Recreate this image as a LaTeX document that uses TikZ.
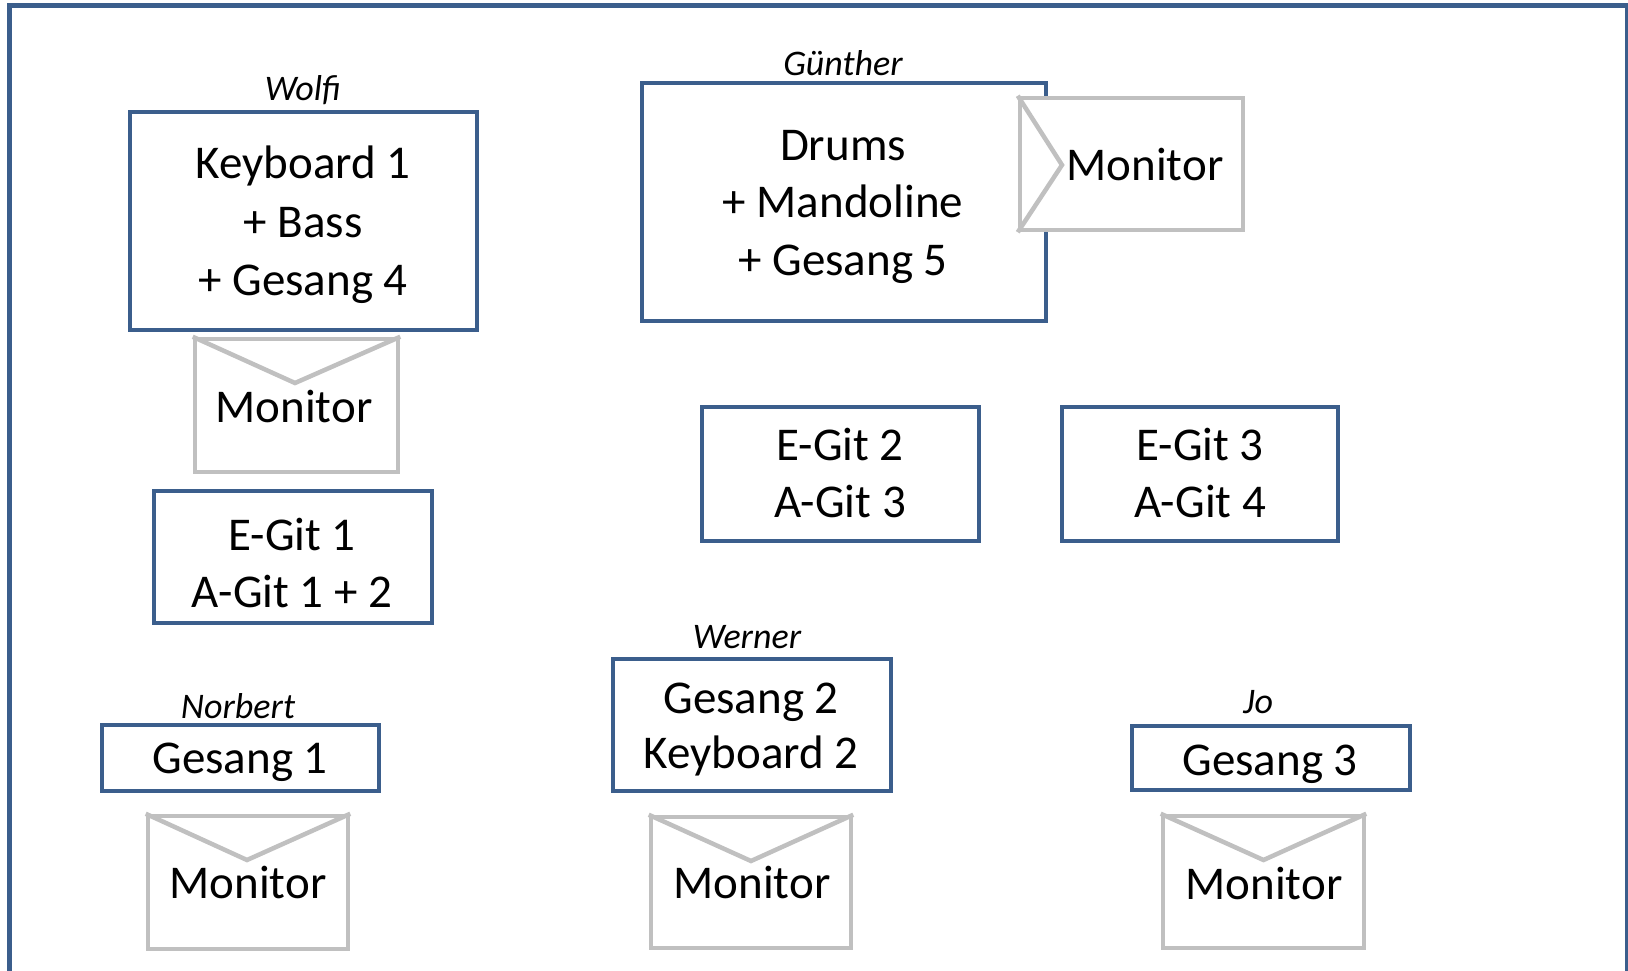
\documentclass[tikz,border=0pt]{standalone}
\usepackage{fontspec}
\setmainfont{Carlito}
\definecolor{boxblue}{HTML}{3B5E8C}
\definecolor{mongray}{HTML}{C0C0C0}
\tikzset{
  blu/.style={draw=boxblue, line width=4.5pt, fill=white, inner sep=0pt},
  mon/.style={draw=mongray, line width=4.5pt, fill=white, inner sep=0pt},
  monline/.style={draw=mongray, line width=4.5pt},
  frame/.style={draw=boxblue, line width=4.5pt},
  txt/.style={font=\fontsize{47}{57}\selectfont, anchor=base, inner sep=0pt},
  who/.style={font=\fontsize{36}{43}\selectfont\itshape, anchor=base, inner sep=0pt}
}
\begin{document}
\begin{tikzpicture}[x=1pt,y=-1pt]
\useasboundingbox (0,0) rectangle (1628,970);
\fill[white] (0,0) rectangle (1628,970);
% outer frame
\coordinate (fbl) at (9.5,1000);
\coordinate (ftr) at (1627,5.5);
\coordinate (fbr) at (1627,1000);
\draw[frame] (fbl) |- (ftr) -- (fbr);

% Wolfi
\node[blu, minimum width=347pt, minimum height=218pt] (wolfi) at (303.5,220.75) {};
\node[who] (wolfiname) at (303,100) {Wolfi};
\node[txt] (w1) at (303,178) {Keyboard 1};
\node[txt] (w2) at (303,237) {+ Bass};
\node[txt] (w3) at (303,295) {+ Gesang 4};
\node[mon, minimum width=203pt, minimum height=133pt] (wmon) at (296.5,405.5) {};
\coordinate (wv) at (295,383);
\draw[monline] (wmon.north west) -- (wv) -- (wmon.north east);
\node[txt] (wmontxt) at (294,422) {Monitor};

% E-Git 1
\node[blu, minimum width=278pt, minimum height=132pt] (eg1) at (293,557) {};
\node[txt] (eg1a) at (292,550) {E-Git 1};
\node[txt] (eg1b) at (292,607) {A-Git 1 + 2};

% Guenther
\node[blu, minimum width=404pt, minimum height=238pt] (guen) at (844,202) {};
\node[who] (guenname) at (843,75) {Günther};
\node[txt] (g1) at (843,160) {Drums};
\node[txt] (g2) at (843,217) {+ Mandoline};
\node[txt] (g3) at (843,275) {+ Gesang 5};
\node[mon, minimum width=223pt, minimum height=132pt] (gmon) at (1131.5,164) {};
\coordinate (gv) at (1062,165);
\draw[monline] (gmon.north west) -- (gv) -- (gmon.south west);
\node[txt] (gmontxt) at (1145,180) {Monitor};

% E-Git 2 / 3
\node[blu, minimum width=277pt, minimum height=134pt] (eg2) at (840.5,474) {};
\node[txt] (eg2a) at (840,460) {E-Git 2};
\node[txt] (eg2b) at (840,517) {A-Git 3};
\node[blu, minimum width=276pt, minimum height=134pt] (eg3) at (1200,474) {};
\node[txt] (eg3a) at (1200,460) {E-Git 3};
\node[txt] (eg3b) at (1200,517) {A-Git 4};

% Norbert
\node[blu, minimum width=277pt, minimum height=66pt] (norb) at (240.5,758) {};
\node[who] (norbname) at (238,718) {Norbert};
\node[txt] (n1) at (240,773) {Gesang 1};
\node[mon, minimum width=200pt, minimum height=133pt] (nmon) at (248,882.5) {};
\coordinate (nv) at (247,860);
\draw[monline] (nmon.north west) -- (nv) -- (nmon.north east);
\node[txt] (nmontxt) at (248,898) {Monitor};

% Werner
\node[blu, minimum width=278pt, minimum height=132pt] (wern) at (752,725) {};
\node[who] (wernname) at (747,648) {Werner};
\node[txt] (we1) at (751,713) {Gesang 2};
\node[txt] (we2) at (751,768) {Keyboard 2};
\node[mon, minimum width=200pt, minimum height=131pt] (wemon) at (751,882.5) {};
\coordinate (wev) at (751,861);
\draw[monline] (wemon.north west) -- (wev) -- (wemon.north east);
\node[txt] (wemontxt) at (752,898) {Monitor};

% Jo
\node[blu, minimum width=278pt, minimum height=64pt] (jo) at (1271,758) {};
\node[who] (joname) at (1258,713) {Jo};
\node[txt] (j1) at (1270,775) {Gesang 3};
\node[mon, minimum width=201pt, minimum height=132pt] (jmon) at (1263.5,882) {};
\coordinate (jv) at (1263.5,860);
\draw[monline] (jmon.north west) -- (jv) -- (jmon.north east);
\node[txt] (jmontxt) at (1264,899) {Monitor};
\end{tikzpicture}
\end{document}
